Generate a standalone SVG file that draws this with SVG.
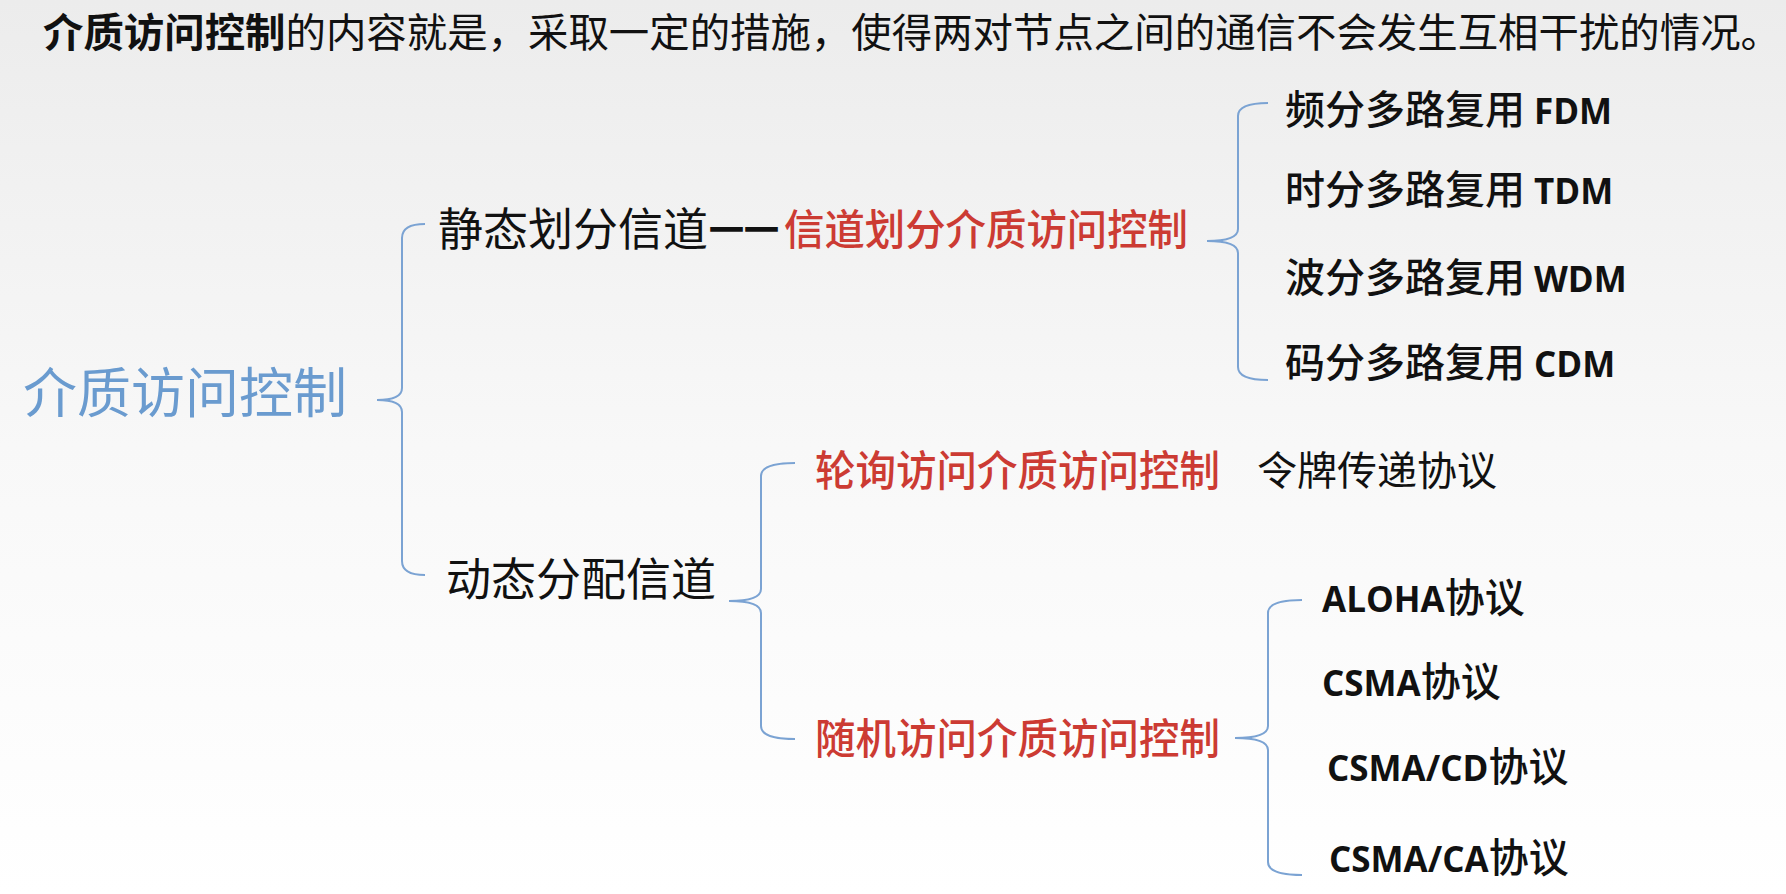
<svg xmlns="http://www.w3.org/2000/svg" width="1786" height="894" viewBox="0 0 1786 894">
<defs>
<linearGradient id="bg" x1="0" y1="0" x2="0" y2="1">
<stop offset="0" stop-color="#ececec"/>
<stop offset="0.5" stop-color="#f8f8f8"/>
<stop offset="1" stop-color="#ffffff"/>
</linearGradient>
<style>
.cjk{font-family:"Noto Sans CJK SC","Noto Sans",sans-serif;fill:#111;font-weight:500;}
.reg{font-weight:400;}
.lat{font-family:"Open Sans","Liberation Sans",sans-serif;font-weight:700;font-size:35px;}
.dash{font-family:"Liberation Sans",sans-serif;font-weight:700;font-size:31px;fill:#111;stroke:#111;stroke-width:1.6;}
.red{fill:#cc3b33;}
.brace{fill:none;stroke:#7ba3d3;stroke-width:2;}
</style>
</defs>
<rect width="1786" height="894" fill="url(#bg)"/>

<g id="title">
<text class="cjk reg" x="43" y="47" font-size="40" textLength="1738" lengthAdjust="spacingAndGlyphs"><tspan style="font-weight:700">介质访问控制</tspan>的内容就是，采取一定的措施，使得两对节点之间的通信不会发生互相干扰的情况。</text>
</g>

<g id="connectors">
<path class="brace" d="M425,224 Q402,224 402,238 L402,388 Q402,400 377,400 Q402,400 402,412 L402,561 Q402,575 425,575"/>
<path class="brace" d="M1268,103 Q1238,103 1238,116 L1238,229 Q1238,241 1207,241 Q1238,241 1238,253 L1238,367 Q1238,380 1268,380"/>
<path class="brace" d="M795,463 Q761,463 761,476 L761,589 Q761,601 729,601 Q761,601 761,613 L761,726 Q761,739 795,739"/>
<path class="brace" d="M1302,600 Q1268,600 1268,613 L1268,726 Q1268,738 1235,738 Q1268,738 1268,750 L1268,862 Q1268,875 1302,875"/>
</g>

<g id="root">
<text class="cjk reg" x="23" y="413" font-size="54" style="fill:#6a9bcf">介质访问控制</text>
</g>

<g id="static">
<text class="cjk reg" x="438" y="246" font-size="45">静态划分信道</text>
<text class="dash" y="238"><tspan x="711">—</tspan><tspan x="746">—</tspan></text>
<text class="cjk red" x="784" y="245" font-size="42" textLength="404" lengthAdjust="spacingAndGlyphs">信道划分介质访问控制</text>
</g>

<g id="fdm"><text class="cjk" x="1285" y="124" font-size="40">频分多路复用 <tspan class="lat">FDM</tspan></text></g>
<g id="tdm"><text class="cjk" x="1285" y="204" font-size="40">时分多路复用 <tspan class="lat">TDM</tspan></text></g>
<g id="wdm"><text class="cjk" x="1285" y="292" font-size="40">波分多路复用 <tspan class="lat">WDM</tspan></text></g>
<g id="cdm"><text class="cjk" x="1285" y="377" font-size="40">码分多路复用 <tspan class="lat">CDM</tspan></text></g>

<g id="dynamic">
<text class="cjk reg" x="446" y="596" font-size="45">动态分配信道</text>
</g>

<g id="polling">
<text class="cjk red" x="815" y="486" font-size="42" textLength="405" lengthAdjust="spacingAndGlyphs">轮询访问介质访问控制</text>
</g>
<g id="token"><text class="cjk reg" x="1257" y="485" font-size="40">令牌传递协议</text></g>

<g id="random">
<text class="cjk red" x="815" y="754" font-size="42" textLength="405" lengthAdjust="spacingAndGlyphs">随机访问介质访问控制</text>
</g>

<g id="aloha"><text class="cjk" x="1322" y="612" font-size="40"><tspan class="lat">ALOHA</tspan>协议</text></g>
<g id="csma"><text class="cjk" x="1322" y="696" font-size="40"><tspan class="lat">CSMA</tspan>协议</text></g>
<g id="csmacd"><text class="cjk" x="1327" y="781" font-size="40"><tspan class="lat">CSMA/CD</tspan>协议</text></g>
<g id="csmaca"><text class="cjk" x="1329" y="872" font-size="40"><tspan class="lat">CSMA/CA</tspan>协议</text></g>
</svg>
